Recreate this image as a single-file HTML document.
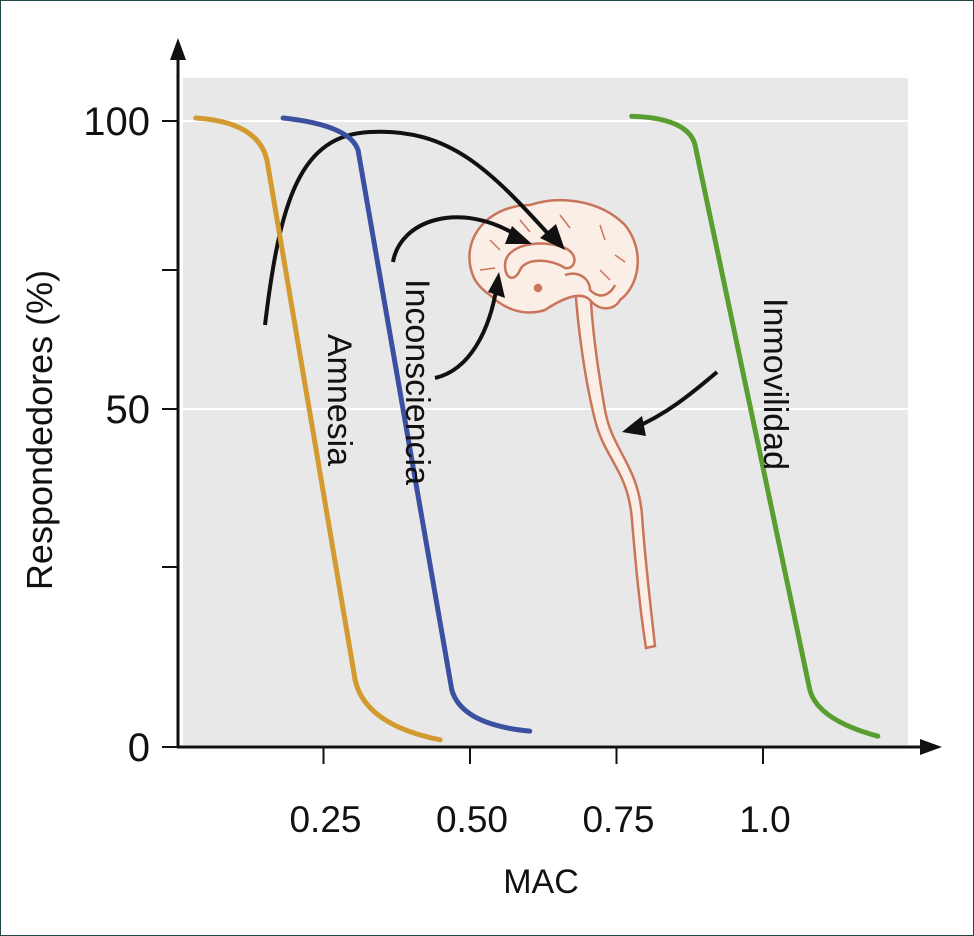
<!DOCTYPE html>
<html><head><meta charset="utf-8"><style>
body{margin:0;background:#fff}
svg{display:block;font-family:"Liberation Sans",sans-serif}
</style></head><body>
<svg id="c" width="974" height="936">
<rect x="0.5" y="0.5" width="973" height="935" fill="#fff" stroke="#1f4a4a"/>
<rect x="183" y="78" width="725" height="667" fill="#e8e8e8"/>
<g id="grid"></g>
<g id="brain" fill="#fbeee6" stroke="#c8755a" stroke-width="2.5">
<path d="M575,285 C578,330 585,380 595,420 C605,460 628,470 632,520 C636,570 640,610 646,648 L655,646 C650,600 645,560 642,515 C638,465 612,450 605,410 C598,370 592,330 590,285 Z"/>
<path d="M470,265 C465,230 495,205 530,205 C560,195 600,200 625,225 C645,250 640,285 620,300 C615,310 600,312 590,300 C580,290 560,300 545,310 C520,318 500,305 490,295 C475,285 472,275 470,265 Z"/>
<path d="M505,265 C505,245 540,238 565,248 C580,255 575,270 565,268 C550,258 525,258 520,270 C515,282 505,280 505,265 Z" fill="none"/>
<path d="M565,275 C580,270 590,280 590,290 C600,300 610,295 615,285" fill="none"/>
<path d="M490,240 L500,250 M520,220 L530,232 M560,215 L570,228 M600,225 L605,240 M615,255 L625,262 M480,270 L495,268 M600,270 L610,280" fill="none" stroke-width="1.5"/>
<circle cx="538" cy="288" r="3" fill="#c8755a"/>
</g>
<g id="arrows" fill="none" stroke="#111" stroke-width="4">
<path d="M265,325 C280,200 300,135 370,132 C450,128 490,170 552,238"/>
<path d="M393,262 C400,220 460,200 518,236"/>
<path d="M435,378 C470,370 490,330 497,285"/>
<path d="M717,372 C690,395 665,415 634,428"/>
</g>
<g fill="#111">
<polygon points="565,250 540,238 556,224"/>
<polygon points="532,244 505,244 512,226"/>
<polygon points="499,272 505,298 488,292"/>
<polygon points="622,432 642,416 646,436"/>
</g>
<g id="series"></g>
<g id="axes"></g>
<text x="0" y="0" transform="translate(52,430) rotate(-90)" text-anchor="middle" font-size="36" fill="#111">Respondedores (%)</text>
<text x="541" y="893" text-anchor="middle" font-size="34" fill="#111">MAC</text>
<text transform="translate(328,400) rotate(90)" text-anchor="middle" font-size="34" fill="#111">Amnesia</text>
<text transform="translate(406,382) rotate(90)" text-anchor="middle" font-size="34" fill="#111">Inconsciencia</text>
<text transform="translate(764,384) rotate(90)" text-anchor="middle" font-size="34" fill="#111">Inmovilidad</text>
</svg>
<script>
const yTickVals=[0,25,50,75,100];
const yTickLabels=["0","","50","","100"];
const xTickVals=[0.25,0.5,0.75,1.0];
const xTickLabels=["0.25","0.50","0.75","1.0"];
const amnesiaMac=[0.032,0.145,0.155,0.304,0.321,0.449];
const amnesiaPct=[100.5,99.8,92.6,9.3,3.1,1.0];
const inconscMac=[0.181,0.295,0.309,0.469,0.486,0.602];
const inconscPct=[100.5,99.3,95.1,7.9,3.1,2.2];
const inmovMac=[0.776,0.872,0.884,1.080,1.094,1.196];
const inmovPct=[100.8,100.5,96.0,7.9,3.75,1.5];

const NS="http://www.w3.org/2000/svg";
const yPix=[747,567,409,270,121];
function ys(v){
  if(v<=0)return 747+(0-v)*7.2;
  if(v>=100)return 121-(v-100)*5.96;
  for(let i=0;i<4;i++){if(v<=yTickVals[i+1]){const t=(v-yTickVals[i])/(yTickVals[i+1]-yTickVals[i]);return yPix[i]+t*(yPix[i+1]-yPix[i]);}}
}
function xs(v){return 177+v*586;}
function mk(tag,at,parent){const e=document.createElementNS(NS,tag);for(const k in at)e.setAttribute(k,at[k]);document.getElementById(parent).appendChild(e);return e;}

yTickVals.forEach((v,i)=>{
  if(v===50||v===100){const g=mk('line',{x1:183,x2:908,y1:ys(v),y2:ys(v),stroke:'#fff','stroke-width':2},'grid');
  
  }
  const t=mk('line',{x1:162,x2:178,y1:ys(v),y2:ys(v),stroke:'#111','stroke-width':2},'axes');
  
  
  if(yTickLabels[i]){const l=mk('text',{x:150,y:ys(v)+14,'text-anchor':'end','font-size':40,fill:'#111'},'axes');l.textContent=yTickLabels[i];
  
  }
});
xTickVals.forEach((v,i)=>{
  const t=mk('line',{x1:xs(v),x2:xs(v),y1:747,y2:764,stroke:'#111','stroke-width':2},'axes');
  
  
  const l=mk('text',{x:xs(v)+2,y:832,'text-anchor':'middle','font-size':37,fill:'#111'},'axes');l.textContent=xTickLabels[i];
  
  
});
const ya=mk('path',{d:'M178,748 L178,50',stroke:'#111','stroke-width':3,fill:'none'},'axes');


const yh=mk('polygon',{points:'178,38 170,60 186,60',fill:'#111'},'axes');


const xa=mk('path',{d:'M177,747 L928,747',stroke:'#111','stroke-width':3,fill:'none'},'axes');


const xh=mk('polygon',{points:'942,747 920,739 920,755',fill:'#111'},'axes');



function curve(mac,pct,color,name){
  const p=mac.map((m,i)=>[xs(m),ys(pct[i])]);
  const d=`M${p[0]} Q${p[1]} ${p[2]} L${p[3]} Q${p[4]} ${p[5]}`;
  const e=mk('path',{d:d,stroke:color,'stroke-width':5,fill:'none','stroke-linecap':'round'},'series');
  
  
}
curve(amnesiaMac,amnesiaPct,'#d39a30','curve-amnesia');
curve(inconscMac,inconscPct,'#3b50a0','curve-inconsciencia');
curve(inmovMac,inmovPct,'#5a9e32','curve-inmovilidad');
</script>
</body></html>
